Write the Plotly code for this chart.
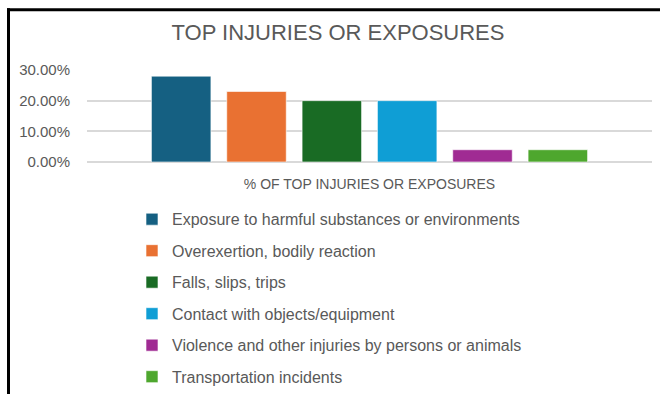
import plotly.graph_objects as go

category = ["% OF TOP INJURIES OR EXPOSURES"]
series_names = [
    "Exposure to harmful substances or environments",
    "Overexertion, bodily reaction",
    "Falls, slips, trips",
    "Contact with objects/equipment",
    "Violence and other injuries by persons or animals",
    "Transportation incidents",
]
series_values = [0.28, 0.23, 0.20, 0.20, 0.04, 0.04]
series_colors = ["#156082", "#E97132", "#196B24", "#0F9ED5", "#A02B93", "#4EA72E"]
y_tickvals = [0, 0.10, 0.20, 0.30]

FONT = "Liberation Sans, Arial, sans-serif"
GRAY = "#595959"

fig = go.Figure()
for i, (name, val, col) in enumerate(zip(series_names, series_values, series_colors)):
    fig.add_trace(go.Bar(
        x=category, y=[val], name=name, legendgroup=f"g{i}",
        marker=dict(color=col, line=dict(color="rgba(255,255,255,0.6)", width=1)),
    ))

# plot area: x 87..652, y 70..162.5 in a 660x394 figure
ml, mr, mt, mb = 87, 8, 70, 231.5
pw = 660 - ml - mr
ph = 394 - mt - mb

def px_x(px):
    return (px - ml) / pw

def px_y(py):
    return (394 - mb - py) / ph

fig.update_layout(
    width=660, height=394,
    margin=dict(l=ml, r=mr, t=mt, b=mb, pad=0, autoexpand=False),
    paper_bgcolor="white", plot_bgcolor="white",
    barmode="group", bargap=0.2, bargroupgap=0.21,
    font=dict(family=FONT, color=GRAY),
    title=dict(text="TOP INJURIES OR EXPOSURES", x=338 / 660, xref="container",
               xanchor="center", y=1 - 32 / 394, yref="container", yanchor="middle",
               font=dict(family=FONT, size=22, color=GRAY)),
    showlegend=True,
    legend=dict(orientation="v", x=px_x(132), xanchor="left", y=px_y(203), yanchor="top",
                font=dict(family=FONT, size=16, color=GRAY), tracegroupgap=7.7,
                bgcolor="rgba(0,0,0,0)", itemclick=False, maxheight=300),
    xaxis=dict(showgrid=False, showline=False, zeroline=False, ticks="",
               tickfont=dict(family=FONT, size=14, color=GRAY), ticklabelstandoff=12),
    yaxis=dict(range=[0, 0.30], tickvals=y_tickvals, tickformat=".2%",
               showgrid=True, gridcolor="#D9D9D9", gridwidth=1.5,
               zeroline=True, zerolinecolor="#D9D9D9", zerolinewidth=1.5,
               showline=False, ticks="",
               tickfont=dict(family=FONT, size=15, color=GRAY), ticklabelstandoff=16),
    shapes=[
        dict(type="line", xref="paper", yref="paper", x0=px_x(8.5), x1=px_x(8.5),
             y0=px_y(8), y1=px_y(400), line=dict(color="black", width=3)),
        dict(type="line", xref="paper", yref="paper", x0=px_x(7), x1=px_x(670),
             y0=px_y(9.5), y1=px_y(9.5), line=dict(color="black", width=3)),
    ],
)

fig.write_html("out.html")
